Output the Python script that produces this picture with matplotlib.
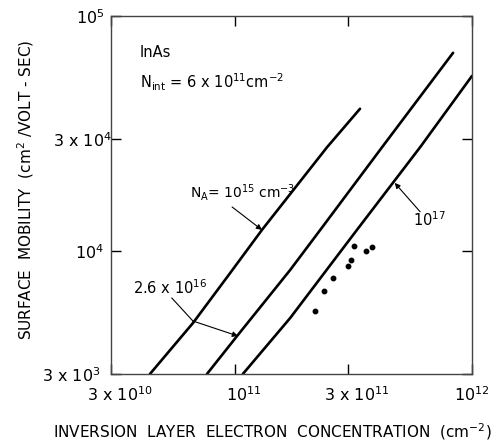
import matplotlib
matplotlib.use("Agg")
import matplotlib.pyplot as plt
from matplotlib.transforms import ScaledTranslation

plt.rcParams["font.family"] = "DejaVu Sans"
plt.rcParams["mathtext.default"] = "regular"

# surface mobility (cm^2/V-s) vs inversion-layer electron density (cm^-2), InAs
N_A15 = [4.38e10, 6.65e10, 9.35e10, 1.30e11, 2.45e11, 3.37e11]
MU_A15 = [3.0e3, 4.94e3, 7.84e3, 1.23e4, 2.77e4, 4.03e4]

N_A26 = [7.62e10, 1.03e11, 1.71e11, 2.29e11, 4.18e11, 8.32e11]
MU_A26 = [3.0e3, 4.40e3, 8.31e3, 1.23e4, 2.77e4, 6.97e4]

N_A17 = [1.08e11, 1.71e11, 3.27e11, 6.05e11, 1.0e12]
MU_A17 = [3.0e3, 5.19e3, 1.23e4, 2.77e4, 5.56e4]

# measured points
N_MEAS = [2.18e11, 2.38e11, 2.59e11, 3.00e11, 3.09e11, 3.18e11, 3.57e11, 3.79e11]
MU_MEAS = [5.56e3, 6.77e3, 7.69e3, 8.65e3, 9.17e3, 1.05e4, 1.00e4, 1.04e4]

X_TICKS = [3e10, 1e11, 3e11, 1e12]
X_LABELS = ["3 x 10$^{10}$", "10$^{11}$", "3 x 10$^{11}$", "10$^{12}$"]
Y_TICKS = [3e3, 1e4, 3e4, 1e5]
Y_LABELS = ["3 x 10$^{3}$", "10$^{4}$", "3 x 10$^{4}$", "10$^{5}$"]

fig = plt.figure(figsize=(4.97, 4.45), dpi=100)
ax = fig.add_axes([0.2233, 0.1596, 0.7264, 0.8045])

for xs, ys in [(N_A15, MU_A15), (N_A26, MU_A26), (N_A17, MU_A17)]:
    ax.plot(xs, ys, color="black", lw=1.9, solid_capstyle="round",
            solid_joinstyle="round")
ax.plot(N_MEAS, MU_MEAS, "o", color="black", ms=3.2)

ax.set_xscale("log")
ax.set_yscale("log")
ax.set_xlim(3e10, 1e12)
ax.set_ylim(3e3, 1e5)
ax.minorticks_off()
ax.set_xticks(X_TICKS, X_LABELS)
ax.set_yticks(Y_TICKS, Y_LABELS)
ax.tick_params(direction="in", length=7, width=1, top=True, right=True,
               labelsize=11.5)
ax.tick_params(axis="y", pad=5)
ax.tick_params(axis="x", pad=8)
for s in ax.spines.values():
    s.set_color("#444444")
    s.set_linewidth(1.0)

# hand-lettered tick labels sit a little off-centre
for lab, dx in zip(ax.get_xticklabels(), [0.09, 0.09, 0.09, 0.0]):
    lab.set_transform(lab.get_transform()
                      + ScaledTranslation(dx, 0, fig.dpi_scale_trans))
for lab, dx in zip(ax.get_yticklabels(), [-0.04, 0.0, 0.08, 0.0]):
    lab.set_transform(lab.get_transform()
                      + ScaledTranslation(dx, 0, fig.dpi_scale_trans))

ax.text(0.08, 0.899, "InAs", transform=ax.transAxes, fontsize=10.5,
        va="center", ha="left")
ax.text(0.08, 0.816, "N$_{int}$ = 6 x 10$^{11}$cm$^{-2}$",
        transform=ax.transAxes, fontsize=10.5, va="center", ha="left")

# curve labels with leader arrows
arrow = dict(arrowstyle="-|>", color="black", lw=0.8, mutation_scale=8,
             shrinkA=0, shrinkB=0)
ax.text(6.46e10, 1.77e4, "N$_A$= 10$^{15}$ cm$^{-3}$", fontsize=10,
        ha="left", va="center")
ax.annotate("", xy=(1.30e11, 1.23e4), xytext=(9.73e10, 1.54e4),
            arrowprops=arrow)

ax.text(3.71e10, 6.97e3, "2.6 x 10$^{16}$", fontsize=10.5,
        ha="left", va="center")
ax.plot([5.42e10, 6.65e10], [6.31e3, 5.04e3], color="black", lw=0.8)
ax.annotate("", xy=(1.03e11, 4.35e3), xytext=(6.65e10, 5.04e3),
            arrowprops=arrow)

ax.text(5.66e11, 1.36e4, "10$^{17}$", fontsize=10.5, ha="left", va="center")
ax.annotate("", xy=(4.72e11, 1.95e4), xytext=(6.04e11, 1.47e4),
            arrowprops=arrow)

ax.set_ylabel("SURFACE  MOBILITY  (cm$^{2}$ /VOLT - SEC)", fontsize=11)
ax.yaxis.set_label_coords(-0.208, 0.514)
fig.text(53 / 497, 1 - 432 / 445,
         "INVERSION  LAYER  ELECTRON  CONCENTRATION  (cm$^{-2}$)",
         fontsize=11, ha="left", va="center")

fig.savefig("out.png", dpi=100)
